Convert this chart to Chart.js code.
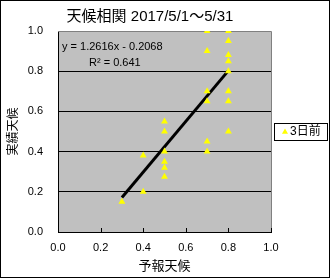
<!DOCTYPE html>
<html><head><meta charset="utf-8">
<script src="https://cdn.jsdelivr.net/npm/chart.js@4"></script>
<style>html,body{margin:0;padding:0;background:#fff}canvas{display:block}</style>
</head><body>
<canvas id="c" width="330" height="278"></canvas>
<script>
const titleText = "天候相関 2017/5/1～5/31";
const xAxisTitle = "予報天候";
const yAxisTitle = "実績天候";
const seriesName = "3日前";
const forecastX = [0.3, 0.4, 0.4, 0.5, 0.5, 0.5, 0.5, 0.5, 0.5, 0.7, 0.7, 0.7, 0.7, 0.7, 0.7, 0.8, 0.8, 0.8, 0.8, 0.8, 0.8, 0.8, 0.8];
const actualY   = [0.15, 0.38, 0.2, 0.55, 0.5, 0.4, 0.35, 0.32, 0.275, 1.0, 0.9, 0.7, 0.65, 0.45, 0.4, 1.0, 0.95, 0.88, 0.85, 0.8, 0.7, 0.65, 0.5];
const trendX = [0.3, 0.8];
const trendY = [0.172, 0.803];
const equationText = "y = 1.2616x - 0.2068";
const r2Text = "R² = 0.641";
const tickValues = [0, 0.2, 0.4, 0.6, 0.8, 1.0];

const FONT = '"Liberation Sans", "Noto Sans CJK JP", sans-serif';

const decor = {
  id: 'decor',
  beforeDraw(chart) {
    const {ctx, chartArea: a} = chart;
    ctx.save();
    ctx.fillStyle = '#fff';
    ctx.fillRect(0, 0, chart.width, chart.height);
    ctx.fillStyle = '#C0C0C0';
    ctx.fillRect(a.left, a.top, a.right - a.left, a.bottom - a.top);
    ctx.restore();
  },
  beforeDatasetsDraw(chart) {
    const {ctx, chartArea: a, scales} = chart;
    ctx.save();
    ctx.strokeStyle = '#808080';
    ctx.lineWidth = 1;
    ctx.beginPath();
    ctx.moveTo(a.left, a.top + 0.5);
    ctx.lineTo(a.right + 0.5, a.top + 0.5);
    ctx.lineTo(a.right + 0.5, a.bottom);
    ctx.stroke();
    // x tick marks pointing inward
    ctx.strokeStyle = '#000';
    ctx.beginPath();
    tickValues.forEach(v => {
      const x = Math.round(scales.x.getPixelForValue(v)) + 0.5;
      ctx.moveTo(x, a.bottom);
      ctx.lineTo(x, a.bottom - 4);
    });
    ctx.stroke();
    // equation
    ctx.fillStyle = '#000';
    ctx.font = '11px ' + FONT;
    ctx.textBaseline = 'middle';
    ctx.textAlign = 'left';
    ctx.fillText(equationText, 62, 47);
    ctx.fillText(r2Text, 89, 63);
    ctx.restore();
  },
  afterDraw(chart) {
    const {ctx} = chart;
    ctx.save();
    // title
    ctx.fillStyle = '#000';
    ctx.font = '15px ' + FONT;
    ctx.textAlign = 'center';
    ctx.textBaseline = 'middle';
    ctx.fillText(titleText, 150, 17);
    // legend
    ctx.fillStyle = '#fff';
    ctx.fillRect(274.5, 123.5, 53, 17);
    ctx.strokeStyle = '#000';
    ctx.lineWidth = 1;
    ctx.strokeRect(274.5, 123.5, 53, 17);
    ctx.fillStyle = '#FFFF00';
    Chart.helpers.drawPoint(ctx, {pointStyle: 'triangle', radius: 3.5, borderWidth: 0}, 285, 132);
    ctx.fillStyle = '#000';
    ctx.font = '12px ' + FONT;
    ctx.textAlign = 'left';
    ctx.fillText(seriesName, 290, 132);
    // outer border
    ctx.strokeRect(0.5, 0.5, chart.width - 1, chart.height - 1);
    ctx.restore();
  }
};

new Chart(document.getElementById('c'), {
  type: 'scatter',
  data: {
    datasets: [
      {
        label: seriesName,
        data: forecastX.map((x, i) => ({x, y: actualY[i]})),
        pointStyle: 'triangle',
        pointRadius: 4,
        pointHoverRadius: 4,
        backgroundColor: '#FFFF00',
        borderColor: '#FFFF00',
        pointBorderWidth: 0,
        order: 1
      },
      {
        type: 'line',
        label: 'trend',
        data: trendX.map((x, i) => ({x, y: trendY[i]})),
        borderColor: '#000',
        borderWidth: 3,
        pointRadius: 0,
        fill: false,
        order: 2
      }
    ]
  },
  options: {
    responsive: false,
    animation: false,
    layout: {padding: {left: 0, right: 59, top: 31, bottom: 0}},
    plugins: {legend: {display: false}, title: {display: false}, tooltip: {enabled: false}},
    scales: {
      x: {
        type: 'linear', min: 0, max: 1,
        afterFit: s => { s.height = 46; },
        afterBuildTicks: s => { s.ticks = tickValues.map(v => ({value: v})); },
        ticks: {color: '#000', font: {family: FONT, size: 11}, padding: 9, maxRotation: 0,
                callback: v => Number(v).toFixed(1)},
        grid: {display: false, drawTicks: false},
        border: {color: '#000', width: 1},
        title: {display: true, text: xAxisTitle, color: '#000', font: {family: FONT, size: 13}, padding: {top: 0, bottom: 3.5}}
      },
      y: {
        type: 'linear', min: 0, max: 1,
        afterFit: s => { s.width = 58; },
        afterBuildTicks: s => { s.ticks = tickValues.map(v => ({value: v})); },
        ticks: {color: '#000', font: {family: FONT, size: 11}, padding: 15,
                callback: v => Number(v).toFixed(1)},
        grid: {drawTicks: false, color: c => (c.tick && (c.tick.value >= 0.99 || c.tick.value <= 0.01)) ? 'rgba(0,0,0,0)' : '#000', lineWidth: 1},
        border: {color: '#000', width: 1},
        title: {display: true, text: yAxisTitle, color: '#000', font: {family: FONT, size: 12}, padding: {top: 6, bottom: 0}}
      }
    }
  },
  plugins: [decor]
});
</script>
</body></html>
